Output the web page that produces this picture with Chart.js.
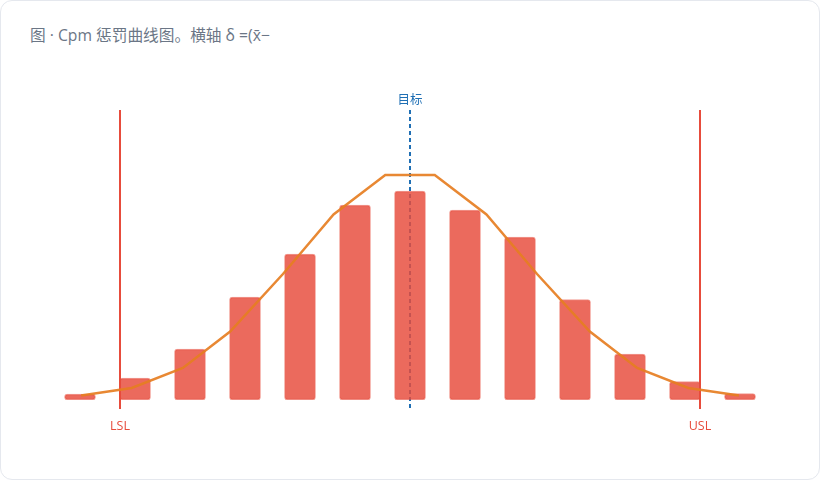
<!DOCTYPE html>
<html>
<head>
<meta charset="utf-8">
<script src="https://cdn.jsdelivr.net/npm/chart.js@4/dist/chart.umd.min.js"></script>
<style>
  html, body { margin: 0; padding: 0; background: #ffffff; }
  #card { position: absolute; left: 0; top: 0; width: 818px; height: 478px; border: 1px solid #e5e8ee; border-radius: 12px; background: #fff; overflow: hidden; }
  #title { position: absolute; left: 29px; top: 24px; font-family: "Open Sans", "Noto Sans CJK SC", sans-serif; font-size: 15.7px; line-height: 20px; color: #6b7686; white-space: nowrap; }
  #wrap { position: absolute; left: -1px; top: -1px; width: 820px; height: 480px; }
</style>
</head>
<body>
<div id="card">
  <div id="title">图 · Cpm 惩罚曲线图。横轴 δ =(x̄−</div>
  <div id="wrap"><canvas id="c" width="820" height="480"></canvas></div>
</div>
<script>
// histogram bars (δ bin centres and heights)
const barX = [-6, -5, -4, -3, -2, -1, 0, 1, 2, 3, 4, 5, 6];
const barY = [1.2, 4.4, 10.2, 20.6, 29.2, 39, 41.8, 38, 32.6, 20.1, 9.2, 3.7, 1.3];
// penalty / fitted curve
const curveX = [-5.98, -5.06, -4.13, -3.27, -2.31, -1.39, -0.45, 0.45, 1.39, 2.31, 3.27, 4.13, 5.06, 5.98];
const curveY = [0.9, 2.4, 6.4, 13.7, 25.2, 37.1, 45, 45, 37.1, 25.2, 13.7, 6.4, 2.4, 0.9];
// specification limits and target
const limitNames = ["LSL", "USL"];
const limitX = [-5.27, 5.27];
const targetName = "目标";
const targetX = 0;

const refLines = {
  id: 'refLines',
  beforeDatasetsDraw(chart) {
    const { ctx, chartArea, scales } = chart;
    const x = scales.x;
    ctx.save();
    ctx.font = '12.5px "Open Sans", "Noto Sans CJK SC", sans-serif';
    ctx.textAlign = 'center';
    ctx.textBaseline = 'middle';
    limitX.forEach((v, i) => {
      const px = Math.round(x.getPixelForValue(v));
      ctx.strokeStyle = '#e74c3c';
      ctx.lineWidth = 2;
      ctx.setLineDash([]);
      ctx.beginPath();
      ctx.moveTo(px, chartArea.top);
      ctx.lineTo(px, chartArea.bottom + 9);
      ctx.stroke();
      ctx.fillStyle = '#e74c3c';
      ctx.fillText(limitNames[i], px, chartArea.bottom + 26);
    });
    const tx = Math.round(x.getPixelForValue(targetX));
    ctx.strokeStyle = '#1f6fb4';
    ctx.lineWidth = 2;
    ctx.setLineDash([4, 3]);
    ctx.beginPath();
    ctx.moveTo(tx, chartArea.top);
    ctx.lineTo(tx, chartArea.bottom + 10);
    ctx.stroke();
    ctx.setLineDash([]);
    ctx.fillStyle = '#1f6fb4';
    ctx.fillText(targetName, tx, chartArea.top - 10);
    ctx.restore();
  }
};

new Chart(document.getElementById('c'), {
  data: {
    datasets: [
      {
        type: 'line',
        order: 0,
        data: curveX.map((v, i) => ({ x: v, y: curveY[i] })),
        borderColor: 'rgba(230,126,34,0.92)',
        borderWidth: 2.5,
        pointRadius: 0,
        tension: 0,
        fill: false
      },
      {
        type: 'bar',
        order: 1,
        data: barX.map((v, i) => ({ x: v, y: barY[i] })),
        backgroundColor: 'rgba(231,76,60,0.83)',
        borderColor: 'rgba(231,76,60,0.55)',
        borderWidth: 1,
        borderSkipped: false,
        borderRadius: 3,
        barThickness: 31
      }
    ]
  },
  plugins: [refLines],
  options: {
    responsive: false,
    animation: false,
    events: [],
    layout: { padding: { left: 52.5, right: 52.5, top: 110, bottom: 80 } },
    plugins: { legend: { display: false }, tooltip: { enabled: false }, title: { display: false } },
    scales: {
      x: { type: 'linear', offset: false, min: -6.5, max: 6.5, display: false, grid: { display: false } },
      y: { type: 'linear', min: 0, max: 58, display: false, grid: { display: false } }
    }
  }
});
</script>
</body>
</html>
